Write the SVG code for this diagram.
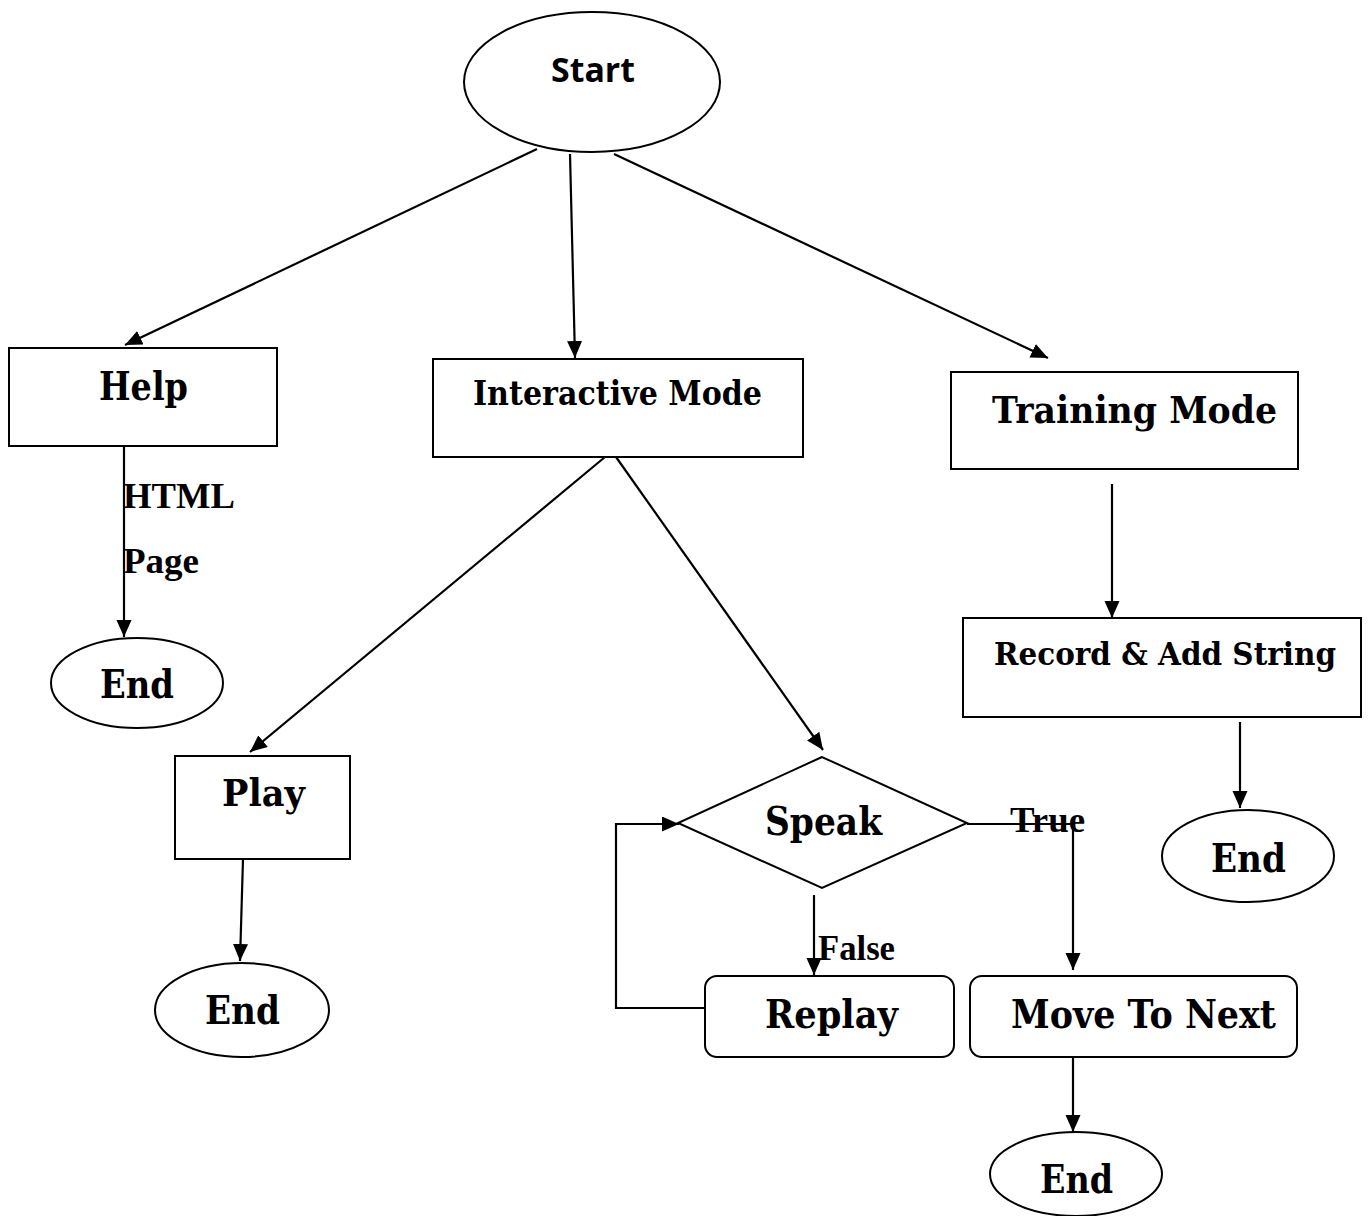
<svg xmlns="http://www.w3.org/2000/svg" width="1371" height="1216" viewBox="0 0 1371 1216">
<style>
.shape{fill:#fff;stroke:#000;stroke-width:2}
.conn{fill:none;stroke:#000;stroke-width:2.2}
.lbl{font-family:"DejaVu Serif","Liberation Serif",serif;font-weight:bold;fill:#000}
.tm{font-family:"Liberation Serif","Times New Roman",serif;font-weight:bold;font-size:36px;fill:#000}
</style>
<defs>
<marker id="ah" markerUnits="userSpaceOnUse" markerWidth="18" markerHeight="16" refX="17" refY="7.5" orient="auto">
<path d="M0,0 L17,7.5 L0,15 z" fill="#000"/>
</marker>
</defs>
<rect width="1371" height="1216" fill="#fff"/>
<g id="connectors">
<line class="conn" x1="537" y1="149" x2="125" y2="345" marker-end="url(#ah)"/>
<line class="conn" x1="570" y1="154" x2="575" y2="358" marker-end="url(#ah)"/>
<line class="conn" x1="614" y1="154" x2="1048" y2="358" marker-end="url(#ah)"/>
<line class="conn" x1="124" y1="446" x2="124" y2="637" marker-end="url(#ah)"/>
<line class="conn" x1="605" y1="457" x2="250" y2="752" marker-end="url(#ah)"/>
<line class="conn" x1="616" y1="457" x2="823" y2="750" marker-end="url(#ah)"/>
<line class="conn" x1="243" y1="859" x2="240" y2="961" marker-end="url(#ah)"/>
<line class="conn" x1="814" y1="895" x2="814" y2="975" marker-end="url(#ah)"/>
<polyline class="conn" points="967,824 1073,824 1073,970" marker-end="url(#ah)"/>
<polyline class="conn" points="705,1008 616,1008 616,824 679,824" marker-end="url(#ah)"/>
<line class="conn" x1="1073" y1="1057" x2="1073" y2="1132" marker-end="url(#ah)"/>
<line class="conn" x1="1112" y1="484" x2="1112" y2="618" marker-end="url(#ah)"/>
<line class="conn" x1="1240" y1="722" x2="1240" y2="808" marker-end="url(#ah)"/>
<text class="tm" x="123" y="508" textLength="112" lengthAdjust="spacingAndGlyphs">HTML</text>
<text class="tm" x="123" y="573" textLength="76" lengthAdjust="spacingAndGlyphs">Page</text>
<text class="tm" x="1010" y="832" textLength="75" lengthAdjust="spacingAndGlyphs">True</text>
<text class="tm" x="818" y="960" textLength="77" lengthAdjust="spacingAndGlyphs">False</text>
</g>
<g id="start">
<ellipse class="shape" cx="592" cy="82" rx="128" ry="70"/>
<text x="551" y="82" font-family="'Open Sans','Liberation Sans',sans-serif" font-weight="bold" font-size="34" textLength="84" lengthAdjust="spacingAndGlyphs">Start</text>
</g>
<g id="help">
<rect class="shape" x="9" y="348" width="268" height="98"/>
<text class="lbl" x="99" y="400" font-size="40" textLength="89" lengthAdjust="spacingAndGlyphs">Help</text>
</g>
<g id="end-help">
<ellipse class="shape" cx="137" cy="683" rx="86" ry="45"/>
<text class="lbl" x="100" y="698" font-size="40" textLength="74" lengthAdjust="spacingAndGlyphs">End</text>
</g>
<g id="interactive">
<rect class="shape" x="433" y="359" width="370" height="98"/>
<text class="lbl" x="473" y="405" font-size="33" textLength="289" lengthAdjust="spacingAndGlyphs">Interactive Mode</text>
</g>
<g id="training">
<rect class="shape" x="951" y="372" width="347" height="97"/>
<text class="lbl" x="992" y="423" font-size="38" textLength="285" lengthAdjust="spacingAndGlyphs">Training Mode</text>
</g>
<g id="record">
<rect class="shape" x="963" y="618" width="398" height="99"/>
<text class="lbl" x="994" y="665" font-size="31" textLength="342" lengthAdjust="spacingAndGlyphs">Record &amp; Add String</text>
</g>
<g id="end-record">
<ellipse class="shape" cx="1248" cy="856" rx="86" ry="46"/>
<text class="lbl" x="1211" y="872" font-size="40" textLength="75" lengthAdjust="spacingAndGlyphs">End</text>
</g>
<g id="play">
<rect class="shape" x="175" y="756" width="175" height="103"/>
<text class="lbl" x="222" y="806" font-size="38" textLength="83" lengthAdjust="spacingAndGlyphs">Play</text>
</g>
<g id="end-play">
<ellipse class="shape" cx="242" cy="1010" rx="87" ry="47"/>
<text class="lbl" x="205" y="1024" font-size="40" textLength="75" lengthAdjust="spacingAndGlyphs">End</text>
</g>
<g id="speak">
<polygon class="shape" points="822,757 678,823 822,888 967,823"/>
<text class="lbl" x="765" y="835" font-size="40" textLength="117" lengthAdjust="spacingAndGlyphs">Speak</text>
</g>
<g id="replay">
<rect class="shape" x="705" y="976" width="249" height="81" rx="12"/>
<text class="lbl" x="765" y="1028" font-size="40" textLength="133" lengthAdjust="spacingAndGlyphs">Replay</text>
</g>
<g id="move-next">
<rect class="shape" x="970" y="976" width="327" height="81" rx="12"/>
<text class="lbl" x="1011" y="1028" font-size="40" textLength="265" lengthAdjust="spacingAndGlyphs">Move To Next</text>
</g>
<g id="end-move">
<ellipse class="shape" cx="1076" cy="1174" rx="86" ry="42"/>
<text class="lbl" x="1040" y="1193" font-size="40" textLength="73" lengthAdjust="spacingAndGlyphs">End</text>
</g>
</svg>
